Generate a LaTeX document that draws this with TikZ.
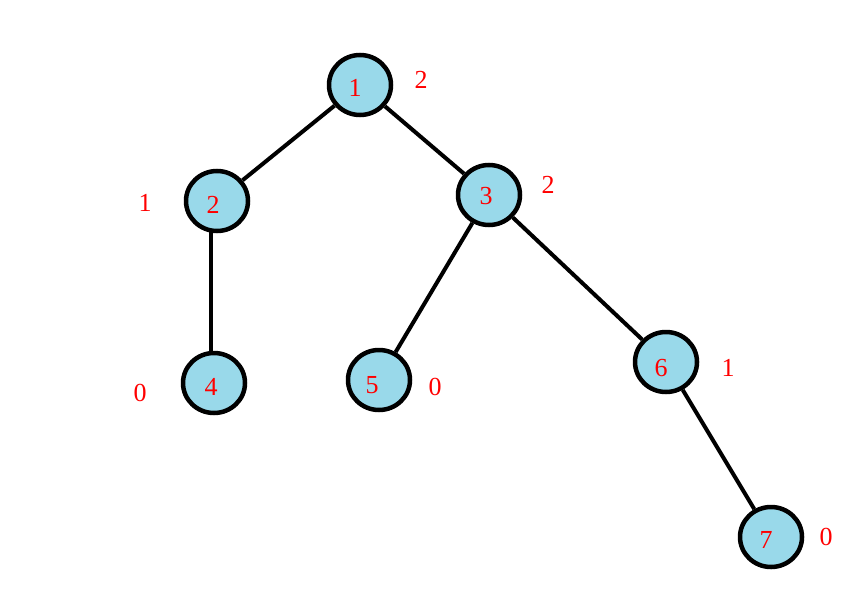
\documentclass[tikz,border=0pt]{standalone}
\usepackage{fontspec}
\setmainfont{Liberation Serif}
\usetikzlibrary{shapes.geometric}
\definecolor{nodeblue}{RGB}{153,217,234}
\begin{document}
\begin{tikzpicture}[x=1pt,y=-1pt,
  vtx/.style={ellipse,draw=black,line width=4.5pt,fill=nodeblue,minimum width=62pt,minimum height=60pt,inner sep=0pt},
  num/.style={text=red,font=\fontsize{26}{30}\selectfont},
  edge/.style={line width=4pt,black}]
\useasboundingbox (0,0) rectangle (850,594);
\node[vtx] (n1) at (360,85) {};
\node[vtx] (n2) at (217,201) {};
\node[vtx] (n3) at (489,195) {};
\node[vtx] (n4) at (214,383) {};
\node[vtx] (n5) at (379,380) {};
\node[vtx] (n6) at (666,362) {};
\node[vtx] (n7) at (771,537) {};
\draw[edge] (n1) -- (n2);
\draw[edge] (n1) -- (n3);
\draw[edge] ([xshift=-6pt,yshift=3pt]n2.south) -- ([xshift=-3pt,yshift=-3pt]n4.north);
\draw[edge] (n3) -- (n5);
\draw[edge] (n3) -- (n6);
\draw[edge] (n6) -- (n7);
\node[num] (t1) at (355,88) {1};
\node[num] (t2) at (213,205) {2};
\node[num] (t3) at (486,196) {3};
\node[num] (t4) at (211,387) {4};
\node[num] (t5) at (372,385) {5};
\node[num] (t6) at (661,368) {6};
\node[num] (t7) at (766,540) {7};
\node[num] (h1) at (421,80) {2};
\node[num] (h2) at (145,203) {1};
\node[num] (h3) at (548,185) {2};
\node[num] (h4) at (140,393) {0};
\node[num] (h5) at (435,387) {0};
\node[num] (h6) at (728,368) {1};
\node[num] (h7) at (826,537) {0};
\end{tikzpicture}
\end{document}
